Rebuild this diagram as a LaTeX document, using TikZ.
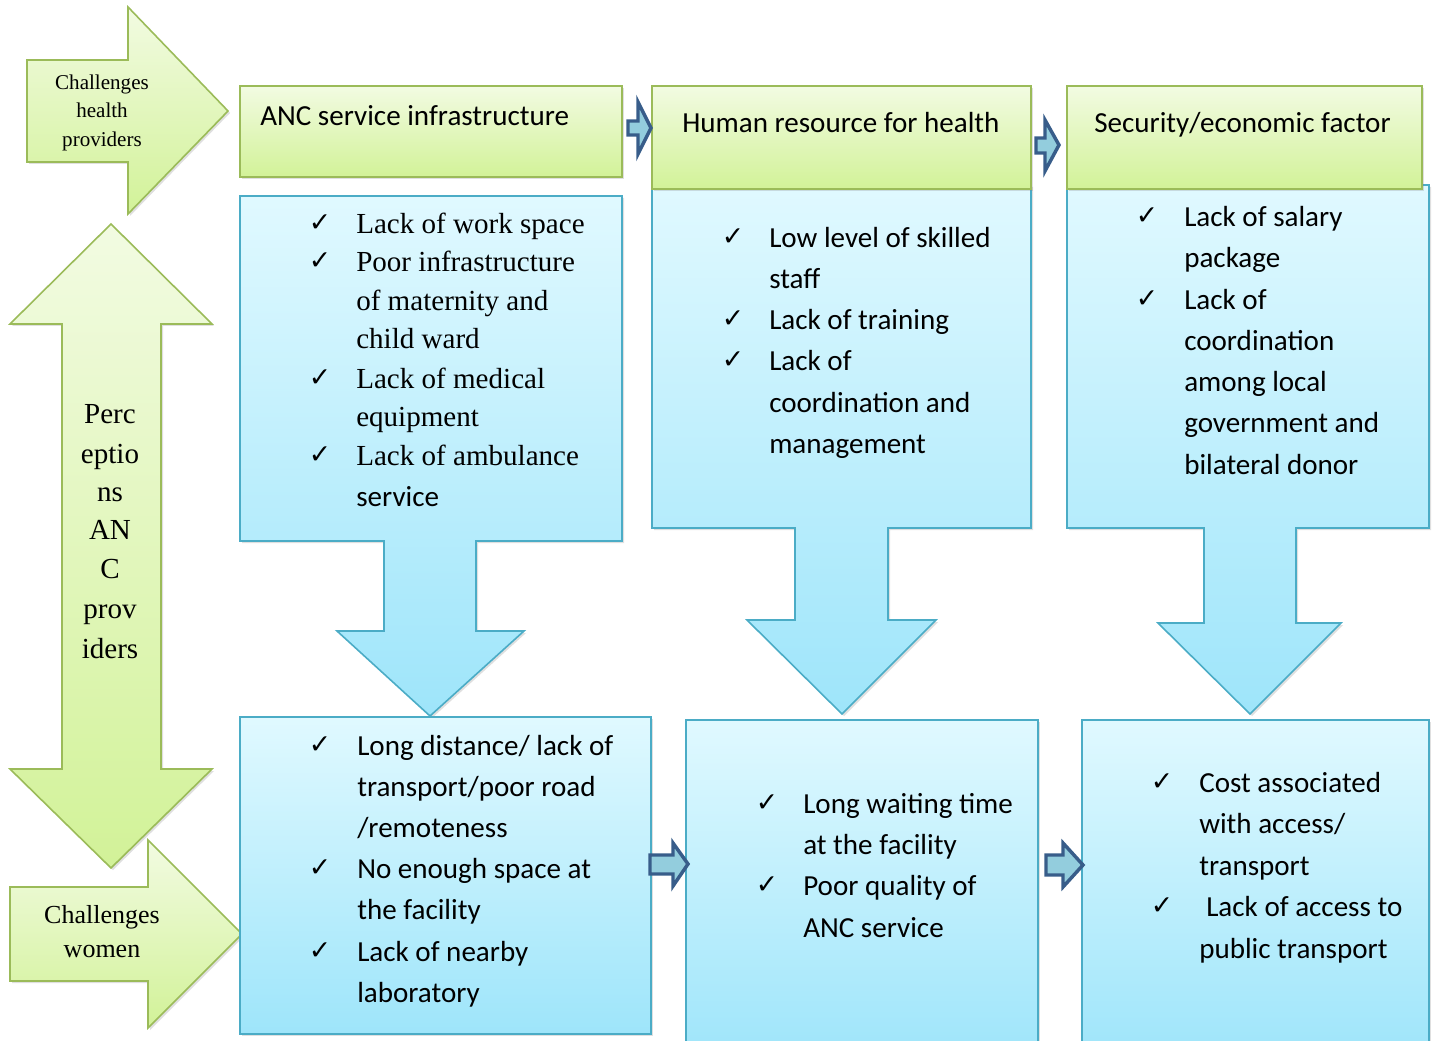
\documentclass[tikz,border=0pt]{standalone}
\usepackage{fontspec}
\setmainfont{Liberation Serif}
\newfontfamily\calfont{Carlito}
\newfontfamily\dvfont{DejaVu Sans}
\usetikzlibrary{shadows}
\definecolor{gtop}{RGB}{242,251,226}
\definecolor{gbot}{RGB}{210,242,152}
\definecolor{gedge}{RGB}{155,187,89}
\definecolor{btop}{RGB}{224,249,255}
\definecolor{bbot}{RGB}{158,229,250}
\definecolor{bedge}{RGB}{75,172,198}
\definecolor{adark}{RGB}{56,93,138}
\definecolor{alight}{RGB}{147,205,221}
\begin{document}
\begin{tikzpicture}[x=0.75pt,y=-0.75pt,
  shad/.style={drop shadow={opacity=0.25,shadow xshift=1.5pt,shadow yshift=-1.5pt}},
  greenshape/.style={draw=gedge,line width=1.2pt,top color=gtop,bottom color=gbot,shad},
  blueshape/.style={draw=bedge,line width=1.2pt,top color=btop,bottom color=bbot,shad},
  smallarrow/.style={draw=adark,line width=2.6pt,fill=alight,line join=miter},
  sline/.style={anchor=mid west,inner sep=0pt,yshift=-4.5pt,font=\fontsize{21.8}{26}\selectfont},
  cline/.style={anchor=mid west,inner sep=0pt,yshift=-4.5pt,font=\calfont\fontsize{21.8}{26}\selectfont},
  chk/.style={anchor=center,inner sep=0pt,yshift=-2pt,font=\dvfont\fontsize{20}{24}\selectfont},
  perc/.style={anchor=mid,inner sep=0pt,yshift=-4.5pt,font=\fontsize{21.8}{26}\selectfont},
]
\useasboundingbox (0,0) rectangle (1432,1041);
\clip (0,0) rectangle (1432,1041);

% left green arrows
\path[greenshape] (27,60)--(128,60)--(128,7)--(228,111)--(128,214)--(128,162)--(27,162)--cycle;
\path[greenshape] (111,224)--(212,324)--(161,324)--(161,769)--(212,769)--(111,868)--(10,769)--(62,769)--(62,324)--(10,324)--cycle;
\path[greenshape] (10,887)--(148,887)--(148,840)--(242,934)--(148,1028)--(148,981)--(10,981)--cycle;

\node[align=center,inner sep=0pt,font=\fontsize{15.8}{21.4}\selectfont] (chp) at (102,112.5) {Challenges\\health\\providers};
\node[align=center,inner sep=0pt,font=\fontsize{19.5}{25.5}\selectfont] (cw) at (102,932) {Challenges\\women};
\node[perc] (p1) at (110,414) {Perc};
\node[perc] (p2) at (110,454) {eptio};
\node[perc] (p3) at (110,492) {ns};
\node[perc] (p4) at (110,530) {AN};
\node[perc] (p5) at (110,569) {C};
\node[perc] (p6) at (110,609) {prov};
\node[perc] (p7) at (110,649) {iders};

% blue boxes with down arrows
\path[blueshape] (240,196)--(622,196)--(622,541)--(476,541)--(476,631)--(524,631)--(430,716)--(337,631)--(384,631)--(384,541)--(240,541)--cycle;
\path[blueshape] (652,185)--(1031,185)--(1031,528)--(888,528)--(888,620)--(936,620)--(842,714)--(747,620)--(795,620)--(795,528)--(652,528)--cycle;
\path[blueshape] (1067,185)--(1429,185)--(1429,528)--(1296,528)--(1296,623)--(1341,623)--(1250,714)--(1158,623)--(1204,623)--(1204,528)--(1067,528)--cycle;

% bottom blue boxes
\path[blueshape] (240,717) rectangle (651,1034);
\path[blueshape] (686,720) rectangle (1038,1060);
\path[blueshape] (1082,720) rectangle (1429,1060);

% green headers
\path[greenshape] (240,86) rectangle (622,177);
\path[greenshape] (652,86) rectangle (1031,189);
\path[greenshape] (1067,86) rectangle (1422,189);
\node[cline] (h1) at (260,116) {ANC service infrastructure};
\node[cline] (h2) at (682,123) {Human resource for health};
\node[cline] (h3) at (1094,123) {Security/economic factor};

% small arrows
\path[smallarrow] (628,121)--(638,121)--(638,102)--(651,128)--(638,154)--(638,135)--(628,135)--cycle;
\path[smallarrow] (1036,138)--(1045,138)--(1045,120)--(1059,145)--(1045,171)--(1045,153)--(1036,153)--cycle;
\path[smallarrow] (650,855)--(673,855)--(673,843)--(688,864)--(673,886)--(673,874)--(650,874)--cycle;
\path[smallarrow] (1046,855)--(1063,855)--(1063,843)--(1083,865)--(1063,887)--(1063,875)--(1046,875)--cycle;

% box 1 text
\node[chk] (k11) at (320,220) {✓};
\node[sline] (a1) at (356,224) {Lack of work space};
\node[chk] (k12) at (320,258) {✓};
\node[sline] (a2) at (356,262) {Poor infrastructure};
\node[sline] (a3) at (356,301) {of maternity and};
\node[sline] (a4) at (356,339) {child ward};
\node[chk] (k13) at (320,375) {✓};
\node[sline] (a5) at (356,379) {Lack of medical};
\node[sline] (a6) at (356,417) {equipment};
\node[chk] (k14) at (320,452) {✓};
\node[sline] (a7) at (356,456) {Lack of ambulance};
\node[cline] (a8) at (356,497) {service};

% box 2 text
\node[chk] (k21) at (733,234) {✓};
\node[cline] (b1) at (769,238) {Low level of skilled};
\node[cline] (b2) at (769,279) {staff};
\node[chk] (k22) at (733,316) {✓};
\node[cline] (b3) at (769,320) {Lack of training};
\node[chk] (k23) at (733,357) {✓};
\node[cline] (b4) at (769,361) {Lack of};
\node[cline] (b5) at (769,403) {coordination and};
\node[cline] (b6) at (769,444) {management};

% box 3 text
\node[chk] (k31) at (1147,213) {✓};
\node[cline] (c1) at (1184,217) {Lack of salary};
\node[cline] (c2) at (1184,258) {package};
\node[chk] (k32) at (1147,296) {✓};
\node[cline] (c3) at (1184,300) {Lack of};
\node[cline] (c4) at (1184,341) {coordination};
\node[cline] (c5) at (1184,382) {among local};
\node[cline] (c6) at (1184,423) {government and};
\node[cline] (c7) at (1184,465) {bilateral donor};

% bottom box 1 text
\node[chk] (k41) at (320,742) {✓};
\node[cline] (d1) at (357,746) {Long distance/ lack of};
\node[cline] (d2) at (357,787) {transport/poor road};
\node[cline] (d3) at (357,828) {/remoteness};
\node[chk] (k42) at (320,865) {✓};
\node[cline] (d4) at (357,869) {No enough space at};
\node[cline] (d5) at (357,910) {the facility};
\node[chk] (k43) at (320,948) {✓};
\node[cline] (d6) at (357,952) {Lack of nearby};
\node[cline] (d7) at (357,993) {laboratory};

% bottom box 2 text
\node[chk] (k51) at (767,800) {✓};
\node[cline] (e1) at (803,804) {Long waiting time};
\node[cline] (e2) at (803,845) {at the facility};
\node[chk] (k52) at (767,882) {✓};
\node[cline] (e3) at (803,886) {Poor quality of};
\node[cline] (e4) at (803,928) {ANC service};

% bottom box 3 text
\node[chk] (k61) at (1162,779) {✓};
\node[cline] (f1) at (1199,783) {Cost associated};
\node[cline] (f2) at (1199,824) {with access/};
\node[cline] (f3) at (1199,866) {transport};
\node[chk] (k62) at (1162,903) {✓};
\node[cline] (f4) at (1206,907) {Lack of access to};
\node[cline] (f5) at (1199,949) {public transport};
\end{tikzpicture}
\end{document}
